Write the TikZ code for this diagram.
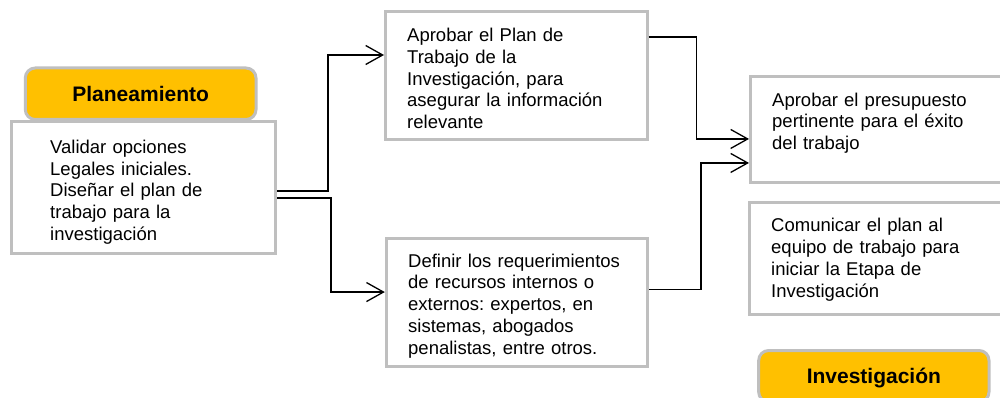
\documentclass[tikz,border=0pt]{standalone}
\usepackage{fontspec}
\setmainfont{Liberation Sans}
\usetikzlibrary{arrows.meta,calc}
\definecolor{boxgray}{HTML}{BFBFBF}
\definecolor{gold}{HTML}{FFC000}
\frenchspacing
\tikzset{
  box/.style={draw=boxgray, line width=3pt, fill=white, inner sep=0pt},
  phase/.style={box, fill=gold, rounded corners=10pt,
    font=\fontsize{21}{25}\selectfont\bfseries, text height=15pt, text depth=0pt},
  txt/.style={inner sep=0pt, anchor=north west, align=left, text width=250pt,
    font=\fontsize{18.5}{21.7}\selectfont\frenchspacing},
  conn/.style={line width=1.3pt, -{Straight Barb[length=17pt,width=19pt]}},
}
\newcommand\fst{\rule{0pt}{14pt}}
\begin{document}
\begin{tikzpicture}[x=1pt,y=-1pt]
\useasboundingbox (0,0) rectangle (1000,398);
\fill[white] (0,0) rectangle (1000,398);
\clip (0,0) rectangle (1000,398);

% boxes
\node[phase, minimum width=230.7pt, minimum height=51.5pt] (pla) at (140.65,93.75) {Planeamiento};
\node[box, minimum width=264.2pt, minimum height=131pt] (val) at (143.4,187.5) {};
\node[box, minimum width=261.5pt, minimum height=127.5pt] (plan) at (516.25,75.75) {};
\node[box, minimum width=261.2pt, minimum height=127.3pt] (def) at (516.9,302.35) {};
\node[box, minimum width=264.5pt, minimum height=105.7pt] (pre) at (882.75,129.15) {};
\node[box, minimum width=265.5pt, minimum height=111.9pt] (com) at (882.25,258.75) {};
\node[phase, minimum width=230.3pt, minimum height=51.5pt] (inv) at (873.85,376.25) {Investigación};

% texts
\node[txt] (valt) at (50,139.3) {\fst Validar opciones\\Legales iniciales.\\Diseñar el plan de\\trabajo para la\\investigación};
\node[txt] (plant) at (407,27.7) {\fst Aprobar el Plan de\\Trabajo de la\\Investigación, para\\asegurar la información\\relevante};
\node[txt] (deft) at (408,253) {\fst Definir los requerimientos\\de recursos internos o\\externos: expertos, en\\sistemas, abogados\\penalistas, entre otros.};
\node[txt] (pret) at (772,92) {\fst Aprobar el presupuesto\\pertinente para el éxito\\del trabajo};
\node[txt] (comt) at (771,217.7) {\fst Comunicar el plan al\\equipo de trabajo para\\iniciar la Etapa de\\Investigación};

% connectors
\draw[conn] ([yshift=-3.5pt]val.east) -- ++(51,0) |- ([yshift=20.75pt]plan.west);
\draw[conn] ([yshift=-10.5pt]val.east) -- ++(54,0) |- ([yshift=10.3pt]def.west);
\draw[conn] ([yshift=38.75pt]plan.east) -- ++(48,0) |- ([yshift=-9.8pt]pre.west);
\draw[conn] ([yshift=12.8pt]def.east) -- ++(52,0) |- ([yshift=-33.8pt]pre.west);
\end{tikzpicture}
\end{document}
